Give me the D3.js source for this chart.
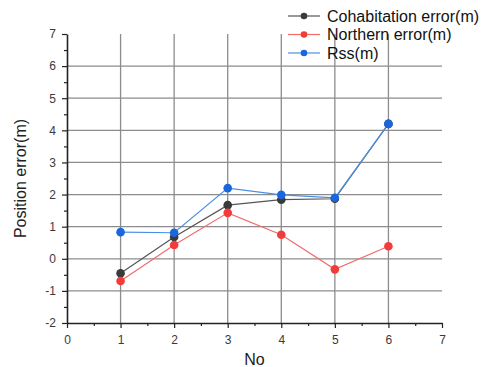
<!DOCTYPE html>
<html>
<head>
<meta charset="utf-8">
<script src="https://cdn.jsdelivr.net/npm/d3@7"></script>
<style>
  body { margin: 0; background: #fff; }
  text { font-family: Arial, "Liberation Sans", sans-serif; }
</style>
</head>
<body>
<div id="chart"></div>
<script>
const nos = [1, 2, 3, 4, 5, 6]
const cohabitation = [-0.45, 0.68, 1.67, 1.84, 1.87, 4.2]
const northern = [-0.69, 0.43, 1.43, 0.75, -0.33, 0.39]
const rss = [0.83, 0.81, 2.2, 1.99, 1.9, 4.2]

const seriesNames = ["Cohabitation error(m)", "Northern error(m)", "Rss(m)"]
const xTicks = [0, 1, 2, 3, 4, 5, 6, 7]
const yTicks = [-2, -1, 0, 1, 2, 3, 4, 5, 6, 7]

const series = [
  { name: seriesNames[0], values: cohabitation, line: "#555", dot: "#3a3a3a" },
  { name: seriesNames[1], values: northern, line: "#f26a6a", dot: "#f23c3c" },
  { name: seriesNames[2], values: rss, line: "#4a8fe6", dot: "#1a66dd" }
]

const width = 488, height = 367
const margin = { top: 34, right: 46, bottom: 44, left: 67 }

const svg = d3.select("#chart").append("svg")
  .attr("width", width)
  .attr("height", height)

const x = d3.scaleLinear().domain([0, 7]).range([margin.left, width - margin.right])
const y = d3.scaleLinear().domain([-2, 7]).range([height - margin.bottom, margin.top])

// grid
const grid = svg.append("g").attr("class", "grid")
grid.selectAll("line.v")
  .data(xTicks.filter(d => d > 0 && d < 7))
  .enter().append("line")
  .attr("x1", d => x(d)).attr("x2", d => x(d))
  .attr("y1", y(7)).attr("y2", y(-2))
  .attr("stroke", "#8c8c8c").attr("stroke-width", 1.3)
grid.selectAll("line.h")
  .data(yTicks.filter(d => d > -2 && d < 7))
  .enter().append("line")
  .attr("x1", x(0)).attr("x2", x(7))
  .attr("y1", d => y(d)).attr("y2", d => y(d))
  .attr("stroke", "#8c8c8c").attr("stroke-width", 1.3)

// axes (plain hyphen for negatives, like the original)
const fmt = d => String(d)
const xAxis = svg.append("g")
  .attr("transform", `translate(0,${y(-2)})`)
  .call(d3.axisBottom(x).tickValues(xTicks).tickFormat(fmt).tickSize(5).tickSizeOuter(0))
const xMinor = svg.append("g")
  .attr("transform", `translate(0,${y(-2)})`)
  .call(d3.axisBottom(x).tickValues(d3.range(0.5, 7, 1)).tickFormat("").tickSize(3).tickSizeOuter(0))
xMinor.select(".domain").remove()

const yAxis = svg.append("g")
  .attr("transform", `translate(${x(0)},0)`)
  .call(d3.axisLeft(y).tickValues(yTicks).tickFormat(fmt).tickSize(5).tickSizeOuter(0))
const yMinor = svg.append("g")
  .attr("transform", `translate(${x(0)},0)`)
  .call(d3.axisLeft(y).tickValues(d3.range(-1.5, 7, 1)).tickFormat("").tickSize(3).tickSizeOuter(0))
yMinor.select(".domain").remove()

svg.selectAll(".domain").attr("stroke", "#222").attr("stroke-width", 1.6)
svg.selectAll(".tick line").attr("stroke", "#222").attr("stroke-width", 1.2)
svg.selectAll(".tick text")
  .attr("fill", "#3a3a3a")
  .style("font-size", "12px")
  .style("font-family", "Arial, 'Liberation Sans', sans-serif")
xAxis.selectAll(".tick text").attr("dy", "1.1em")
yAxis.selectAll(".tick text").attr("x", -11)

// axis titles
svg.append("text")
  .attr("x", (x(0) + x(7)) / 2 + 0)
  .attr("y", 365)
  .attr("text-anchor", "middle")
  .attr("fill", "#222")
  .style("font-size", "16px")
  .text("No")

svg.append("text")
  .attr("transform", `translate(26,${(y(-2) + y(7)) / 2}) rotate(-90)`)
  .attr("text-anchor", "middle")
  .attr("fill", "#222")
  .style("font-size", "16px")
  .text("Position error(m)")

// lines
const line = d3.line()
  .x((d, i) => x(nos[i]))
  .y(d => y(d))

const plot = svg.append("g").attr("class", "series")
series.forEach(s => {
  plot.append("path")
    .datum(s.values)
    .attr("fill", "none")
    .attr("stroke", s.line)
    .attr("stroke-width", 1.2)
    .attr("d", line)
})
series.forEach(s => {
  plot.selectAll(null)
    .data(s.values)
    .enter().append("circle")
    .attr("cx", (d, i) => x(nos[i]))
    .attr("cy", d => y(d))
    .attr("r", 4.3)
    .attr("fill", s.dot)
})

// legend
const legend = svg.append("g").attr("transform", "translate(288,16)")
series.forEach((s, i) => {
  const row = legend.append("g").attr("transform", `translate(0,${i * 18.5})`)
  row.append("line")
    .attr("x1", 0).attr("x2", 32)
    .attr("stroke", s.line).attr("stroke-width", 1.2)
  row.append("circle")
    .attr("cx", 16).attr("r", 3.3)
    .attr("fill", s.dot)
  row.append("text")
    .attr("x", 39).attr("dy", "0.35em")
    .attr("fill", "#111")
    .style("font-size", "16px")
    .text(s.name)
})
</script>
</body>
</html>
